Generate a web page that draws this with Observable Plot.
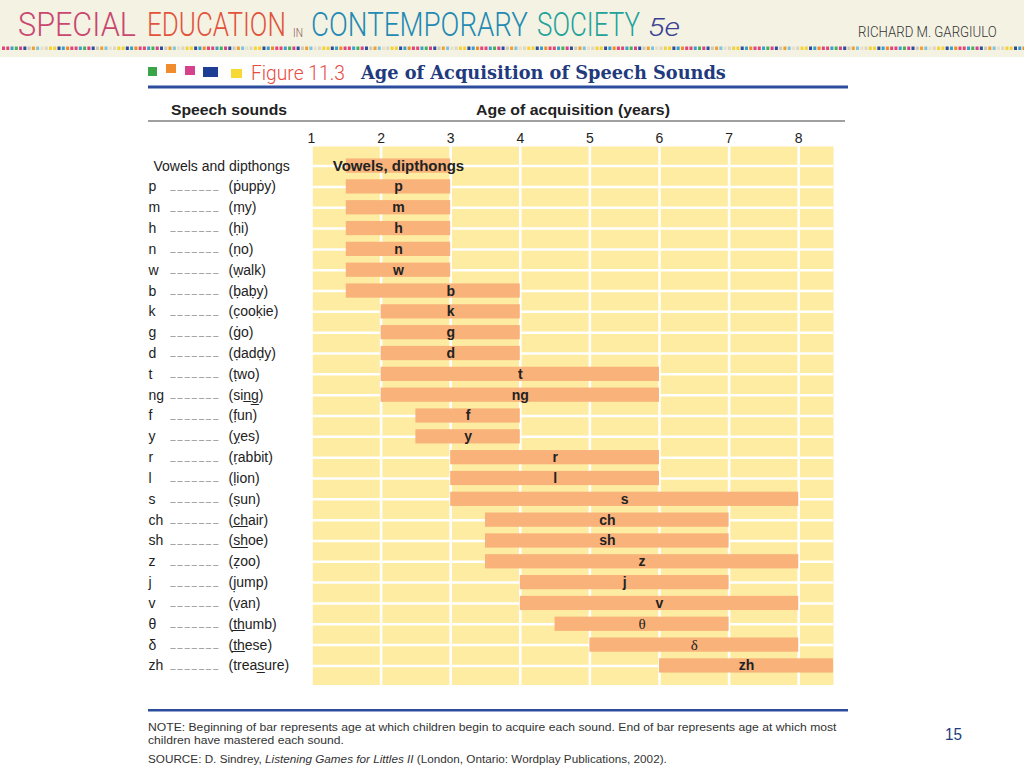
<!DOCTYPE html>
<html><head><meta charset="utf-8">
<script src="https://cdn.jsdelivr.net/npm/d3@7"></script>
<script src="https://cdn.jsdelivr.net/npm/@observablehq/plot@0.6"></script>
<style>
body{margin:0;width:1024px;height:768px;position:relative;overflow:hidden;background:#fff;font-family:"Liberation Sans",Arial,sans-serif;}
#overlay{position:absolute;left:0;top:0;}
#chart{position:absolute;left:140px;top:125px;}
.hand{font-family:Roboto,"DejaVu Sans",sans-serif;font-weight:300;}
</style></head><body>
<svg id="overlay" width="1024" height="768">
  <rect x="0" y="0" width="1024" height="57" fill="#f4f2e3"/>
  <g class="hand" font-size="33">
    <text class="fit" data-w="118" x="18" y="36" fill="#c9466f">SPECIAL</text>
    <text class="fit" data-w="139" x="147" y="36" fill="#e2533b">EDUCATION</text>
    <text class="fit" data-w="10" x="293" y="37" fill="#8c5a52" font-size="12">IN</text>
    <text class="fit" data-w="217" x="311" y="36" fill="#1f8ab3">CONTEMPORARY</text>
    <text class="fit" data-w="103" x="537" y="36" fill="#22a29a">SOCIETY</text>
    <text class="fit" data-w="32" x="648" y="36" fill="#3a3f94" font-style="italic" font-size="26">5e</text>
    <text class="fit" data-w="139" x="858" y="37" fill="#333" font-size="15">RICHARD M. GARGIULO</text>
  </g>
  <g id="dots"></g>
  <rect x="148" y="67" width="9" height="9" fill="#3aa548"/>
  <rect x="166" y="64" width="10" height="9" fill="#f08c2c"/>
  <rect x="185" y="66" width="10" height="9" fill="#d6428a"/>
  <rect x="203" y="67" width="15" height="10" fill="#1d3e93"/>
  <rect x="231" y="69" width="11" height="9" fill="#f6d935"/>
  <text class="hand fit" data-w="94" x="251" y="80" fill="#e84a3f" font-size="20">Figure 11.3</text>
  <text class="fit" data-w="365" x="361" y="79" fill="#1f3b7d" font-family="'DejaVu Serif','Liberation Serif',serif" font-weight="bold" font-size="18">Age of Acquisition of Speech Sounds</text>
  <rect x="148" y="85.5" width="700" height="3" fill="#2c4c9c"/>
  <text class="fit" data-w="116" x="171" y="115" fill="#222" font-weight="bold" font-size="15">Speech sounds</text>
  <text class="fit" data-w="194" x="476" y="115" fill="#222" font-weight="bold" font-size="15">Age of acquisition (years)</text>
  <rect x="148" y="120" width="697" height="2" fill="#a0a0a0"/>
  <rect x="148" y="709" width="700" height="2.5" fill="#2c4c9c"/>
  <g fill="#333" font-size="11.5">
    <text class="fit" data-w="689" x="148" y="731">NOTE: Beginning of bar represents age at which children begin to acquire each sound. End of bar represents age at which most</text>
    <text class="fit" data-w="196" x="148" y="744">children have mastered each sound.</text>
    <text class="fit" data-w="519" x="148" y="763">SOURCE: D. Sindrey, <tspan font-style="italic">Listening Games for Littles II</tspan> (London, Ontario: Wordplay Publications, 2002).</text>
  </g>
  <text class="fit" data-w="17" x="945" y="740" fill="#1f3b7d" font-size="17">15</text>
</svg>
<div id="chart"></div>
<script>
// ---- data ----
const sounds = ["Vowels, dipthongs","p","m","h","n","w","b","k","g","d","t","ng","f","y","r","l","s","ch","sh","z","j","v","θ","δ","zh"];
const leftLabels = ["Vowels and dipthongs","p","m","h","n","w","b","k","g","d","t","ng","f","y","r","l","s","ch","sh","z","j","v","θ","δ","zh"];
const examples = ["",
  "(p\u0307upp\u0307y)","(m\u0323y)","(h\u0323i)","(n\u0323o)","(w\u0323alk)","(b\u0323ab\u0323y)",
  "(c\u0323ook\u0323ie)","(g\u0307o)","(d\u0323add\u0323y)","(t\u0323wo)","(sin\u0332g\u0332)","(f\u0323un)",
  "(y\u0323es)","(r\u0323abbit)","(l\u0323ion)","(s\u0323un)","(c\u0332h\u0332air)","(s\u0332h\u0332oe)",
  "(z\u0323oo)","(j\u0323ump)","(v\u0323an)","(t\u0332h\u0332umb)","(t\u0332h\u0332ese)","(treas\u0332ure)"];
const startAges = [1.5,1.5,1.5,1.5,1.5,1.5,1.5,2,2,2,2,2,2.5,2.5,3,3,3,3.5,3.5,3.5,4,4,4.5,5,6];
const endAges   = [3,3,3,3,3,3,4,4,4,4,6,6,4,4,6,6,8,7,7,8,7,8,7,8,8.5];
const labelAgeOverride = {b: 3};
const ageTicks = [1,2,3,4,5,6,7,8];
const ageDomain = [1, 8.5];

// ---- fit decorative texts to their measured widths (scale font, stretch vertically) ----
document.querySelectorAll("#overlay text.fit").forEach(el => {
  const target = +el.dataset.w;
  const fs = parseFloat(getComputedStyle(el).fontSize);
  const w = el.getComputedTextLength();
  if (!w) return;
  const s = target / w;
  el.setAttribute("font-size", fs * s);
  const x = +el.getAttribute("x"), y = +el.getAttribute("y");
  el.setAttribute("transform", `translate(${x},${y}) scale(1,${1 / s}) translate(${-x},${-y})`);
});

// ---- dotted decorative band ----
const dotColors = ["#e2457a","#f0a030","#3aa0c8","#2c4c9c","#f5d23a","#49b05a","#dcd6c2","#e2457a","#7fc3dc","#f08c2c","#cfc9b6","#2c4c9c","#d6428a","#f5d23a","#3aa0c8","#e6e0cc"];
const dg = d3.select("#dots");
for (let i = 0; i < 240; i++) {
  dg.append("rect").attr("x", 2 + i * 4.27).attr("y", 46.5).attr("width", 3).attr("height", 3.5)
    .attr("fill", dotColors[(i * 7) % dotColors.length]);
}

const rows = sounds.map((s, i) => ({
  sound: s, left: leftLabels[i], example: examples[i],
  start: startAges[i], end: endAges[i],
  mid: labelAgeOverride[s] ?? (startAges[i] + endAges[i]) / 2
}));
const greek = new Set(["θ","δ"]);

const yellow = "#fdeca1", barColor = "#f8b27a";

const chart = Plot.plot({
  width: 710, height: 560,
  marginLeft: 171, marginRight: 17, marginTop: 21, marginBottom: 0,
  style: {fontFamily: "'Liberation Sans', Arial, sans-serif", fontSize: "14px", color: "#222", background: "none"},
  x: {domain: ageDomain, axis: "top", ticks: ageTicks, tickSize: 0, tickPadding: 4, label: null, tickFormat: d => String(d)},
  y: {domain: sounds, axis: null, paddingInner: 0, paddingOuter: 0.44, round: false},
  marks: [
    Plot.frame({fill: yellow, stroke: null}),
    Plot.ruleY(sounds, {y: d => d, stroke: "white", strokeWidth: 2.5}),
    Plot.ruleX(ageTicks, {stroke: "white", strokeWidth: 2.6}),
    Plot.barX(rows, {x1: "start", x2: "end", y: "sound", fill: barColor, insetTop: 3.3, insetBottom: 3.3}),
    Plot.text(rows.filter(d => !greek.has(d.sound) && d.sound !== sounds[0]), {x: "mid", y: "sound", text: "sound", fontWeight: "bold", fontSize: 14}),
    Plot.text(rows.slice(0, 1), {x: "mid", y: "sound", text: "sound", fontWeight: "bold", fontSize: 15}),
    Plot.text(rows.filter(d => greek.has(d.sound)), {x: "mid", y: "sound", text: "sound", fontFamily: "'Liberation Serif', 'DejaVu Serif', serif", fontSize: 15}),
    Plot.text(rows.slice(0, 1), {y: "sound", text: "left", frameAnchor: "left", dx: -158, textAnchor: "start", fontSize: 14}),
    Plot.text(rows.slice(1), {y: "sound", text: "left", frameAnchor: "left", dx: -163, textAnchor: "start", fontSize: 14}),
    Plot.text(rows.slice(1), {y: "sound", text: () => "_______", frameAnchor: "left", dx: -141, dy: -1, textAnchor: "start", fontSize: 9, fill: "#777"}),
    Plot.text(rows.slice(1), {y: "sound", text: "example", frameAnchor: "left", dx: -83, textAnchor: "start", fontSize: 14})
  ]
});
d3.select(chart).selectAll("text").filter(function(){ return this.textContent === "_______"; })
  .attr("letter-spacing", "2.1px");
document.getElementById("chart").appendChild(chart);
</script></body></html>
